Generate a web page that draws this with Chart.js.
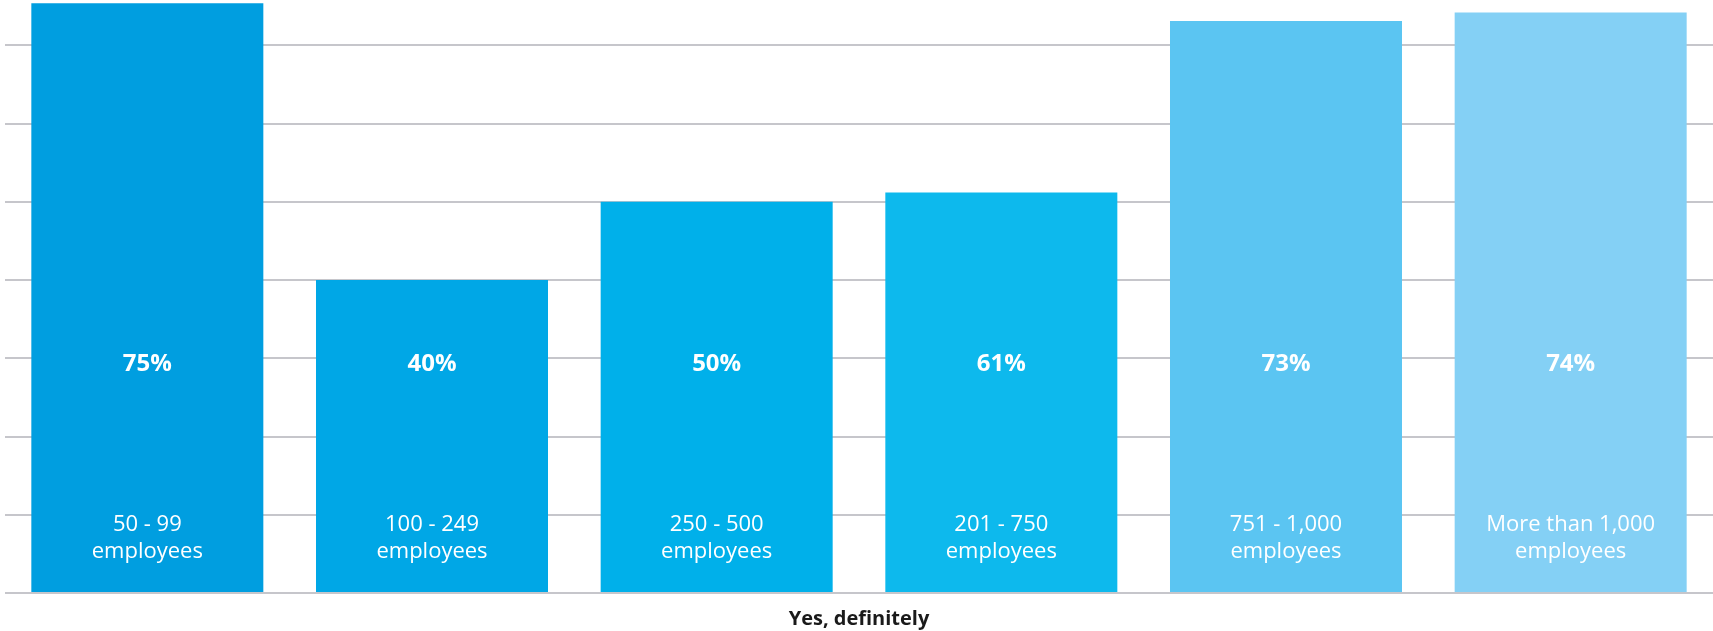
<!DOCTYPE html>
<html lang="en">
<head>
    <meta charset="UTF-8">
    <meta name="viewport" content="width=device-width, initial-scale=1.0">
    <title>Yes, definitely - by company size</title>
    <script src="https://cdn.jsdelivr.net/npm/chart.js"></script>
    <style>
        html, body {
            margin: 0;
            padding: 0;
            background: #ffffff;
        }
        .chart-container {
            position: relative;
            width: 1713px;
            height: 631px;
        }
    </style>
</head>
<body>

    <section class="chart-container">
        <canvas id="sizeChart"></canvas>
    </section>

    <script>
        // Company size groups (two text lines each, printed inside the bars)
        const categories = [
            ['50 - 99', 'employees'],
            ['100 - 249', 'employees'],
            ['250 - 500', 'employees'],
            ['201 - 750', 'employees'],
            ['751 - 1,000', 'employees'],
            ['More than 1,000', 'employees']
        ];
        // Bar heights as drawn in the picture (the 61% bar is drawn lower than its label)
        const barValues = [75.4, 40, 50, 51.2, 73.1, 74.2];
        // Percent labels printed on the bars
        const percentLabels = ['75%', '40%', '50%', '61%', '73%', '74%'];
        // Gridline positions (no tick labels are shown)
        const yTicks = [0, 10, 20, 30, 40, 50, 60, 70];
        const barColors = ['#009ee0', '#00a7e6', '#00b0ea', '#0db9ed', '#5bc5f2', '#84d0f5'];
        const axisTitle = 'Yes, definitely';

        // Writes the percentage and the size group inside every bar
        const barTextPlugin = {
            id: 'barText',
            afterDatasetsDraw(chart) {
                const ctx = chart.ctx;
                const x = chart.scales.x;
                const bottom = chart.chartArea.bottom;
                ctx.save();
                ctx.fillStyle = '#ffffff';
                ctx.textAlign = 'center';
                ctx.textBaseline = 'middle';
                categories.forEach((lines, i) => {
                    const cx = x.getPixelForValue(i);
                    ctx.font = 'bold 24px "Open Sans"';
                    ctx.fillText(percentLabels[i], cx, bottom - 229);
                    ctx.font = '22px "Open Sans"';
                    ctx.fillText(lines[0], cx, bottom - 68);
                    ctx.fillText(lines[1], cx, bottom - 41);
                });
                ctx.restore();
            }
        };

        function drawSizeChart() {
            const ctx = document.getElementById('sizeChart').getContext('2d');
            new Chart(ctx, {
                type: 'bar',
                data: {
                    labels: categories.map(c => c.join(' ')),
                    datasets: [{
                        data: barValues,
                        backgroundColor: barColors,
                        borderWidth: 0,
                        barPercentage: 0.815,
                        categoryPercentage: 1
                    }]
                },
                options: {
                    responsive: true,
                    maintainAspectRatio: false,
                    animation: false,
                    layout: {
                        padding: { left: 5, right: 0, top: 0, bottom: 0 }
                    },
                    plugins: {
                        legend: { display: false },
                        tooltip: { enabled: false }
                    },
                    scales: {
                        x: {
                            grid: { display: false, drawTicks: false },
                            border: { display: false },
                            ticks: { display: false },
                            title: {
                                display: true,
                                text: axisTitle,
                                color: '#1a1a1a',
                                font: { family: 'Open Sans', size: 20, weight: 'bold', lineHeight: 1.2 },
                                padding: { top: 14, bottom: 0 }
                            }
                        },
                        y: {
                            min: 0,
                            max: 75.8,
                            border: { display: false },
                            ticks: { display: false },
                            afterBuildTicks: (scale) => {
                                scale.ticks = yTicks.map(v => ({ value: v }));
                            },
                            grid: {
                                color: '#c6c6cb',
                                lineWidth: 2,
                                drawTicks: false
                            }
                        }
                    }
                },
                plugins: [barTextPlugin]
            });
        }

        document.addEventListener('DOMContentLoaded', drawSizeChart);
    </script>

</body>
</html>
